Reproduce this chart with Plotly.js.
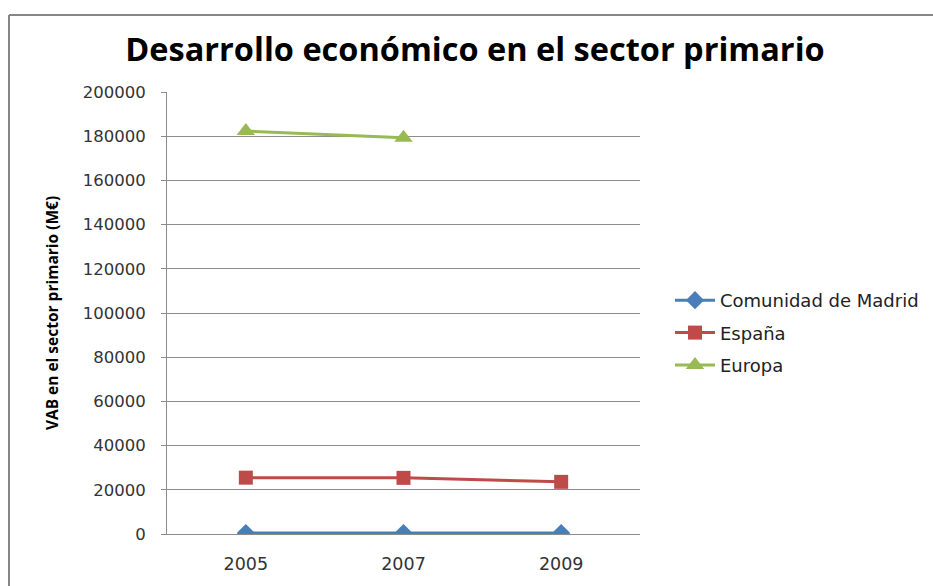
<!DOCTYPE html>
<html>
<head>
<meta charset="utf-8">
<script src="https://cdn.plot.ly/plotly-3.0.1.min.js"></script>
<style>html,body{margin:0;padding:0;background:#fff;}#chart{width:933px;height:586px;}</style>
</head>
<body>
<div id="chart"></div>
<script>
const years = ['2005', '2007', '2009'];
const madrid = [450, 420, 400];
const espana = [25500, 25400, 23600];
const europa = [182300, 179300, null];
const seriesNames = ['Comunidad de Madrid', 'España', 'Europa'];
const yTicks = [0, 20000, 40000, 60000, 80000, 100000, 120000, 140000, 160000, 180000, 200000];

const traces = [
  {x: years, y: madrid, name: seriesNames[0], type: 'scatter', mode: 'lines+markers',
   line: {color: '#4A7EBB', width: 3}, marker: {symbol: 'diamond', size: 14, color: '#4A7EBB'},
   legendgroup: 'a'},
  {x: years, y: espana, name: seriesNames[1], type: 'scatter', mode: 'lines+markers',
   line: {color: '#BE4B48', width: 3}, marker: {symbol: 'square', size: 14, color: '#BE4B48'},
   legendgroup: 'b'},
  {x: years, y: europa, name: seriesNames[2], type: 'scatter', mode: 'lines+markers',
   line: {color: '#98B954', width: 3}, marker: {symbol: 'triangle-up', size: 16, color: '#98B954'},
   legendgroup: 'c'}
];

const L = 167, R = 640, T = 92, B = 534, W = 933, H = 586;
const px = v => (v - L) / (R - L);
const py = v => (B - v) / (B - T);

const layout = {
  width: W, height: H,
  margin: {l: L, r: W - R, t: T, b: H - B, autoexpand: false},
  paper_bgcolor: '#ffffff', plot_bgcolor: '#ffffff',
  title: {text: 'Desarrollo económico en el sector primario',
    font: {family: 'Open Sans', size: 32.5, color: '#000', weight: 'bold'},
    x: 475 / W, xanchor: 'center', xref: 'container', y: 1 - 50 / H, yanchor: 'middle', yref: 'container'},
  xaxis: {type: 'category', range: [-0.5, 2.5], showgrid: false, showline: true,
    linecolor: '#8c8c8c', linewidth: 1, ticks: '', zeroline: false,
    tickfont: {family: 'DejaVu Sans', size: 17.5, color: '#333'}, ticklabelstandoff: 14},
  yaxis: {range: [0, 200000], tickvals: yTicks, tickformat: 'd', showgrid: true,
    gridcolor: '#8c8c8c', gridwidth: 1, showline: true, linecolor: '#8c8c8c', linewidth: 1,
    zeroline: false, ticks: 'outside', ticklen: 5, tickcolor: '#8c8c8c',
    tickfont: {family: 'DejaVu Sans', size: 16.5, color: '#333'}, ticklabelstandoff: 12,
    title: {text: 'VAB en el sector primario (M€)', standoff: 20,
      font: {family: 'Open Sans', size: 15.5, color: '#000', weight: 'bold'}}},
  legend: {x: px(670), y: py(282), xanchor: 'left', yanchor: 'top',
    font: {family: 'DejaVu Sans', size: 18, color: '#222'}, traceorder: 'grouped',
    tracegroupgap: 6, itemwidth: 40, bgcolor: 'rgba(0,0,0,0)'},
  shapes: [
    {type: 'line', xref: 'paper', yref: 'paper', x0: px(9), x1: px(9), y0: py(590), y1: py(15),
     line: {color: '#868686', width: 2}},
    {type: 'line', xref: 'paper', yref: 'paper', x0: px(9), x1: px(935), y0: py(15), y1: py(15),
     line: {color: '#868686', width: 2}}
  ],
  showlegend: true
};

Plotly.newPlot('chart', traces, layout, {displayModeBar: false, staticPlot: true});
</script>
</body>
</html>
